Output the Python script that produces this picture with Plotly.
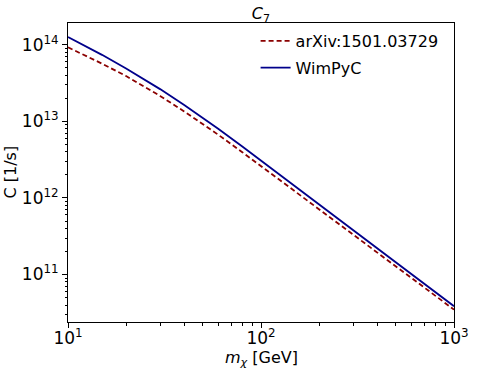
import plotly.graph_objects as go

# dark matter mass [GeV]
m_chi = [10, 12, 15, 20, 25, 30, 40, 50, 60, 80, 100, 150, 200, 300, 500, 700, 1000]

# capture rate C [1/s]
c_arxiv = [9.27e13, 7.48e13, 5.68e13, 3.91e13, 2.82e13, 2.15e13, 1.35e13, 9.27e12,
           6.70e12, 3.96e12, 2.61e12, 1.22e12, 7.11e11, 3.32e11, 1.27e11, 6.78e10,
           3.48e10]
c_wimpyc = [1.265e14, 9.98e13, 7.40e13, 4.92e13, 3.51e13, 2.64e13, 1.64e13, 1.11e13,
            8.00e12, 4.69e12, 3.07e12, 1.42e12, 8.22e11, 3.81e11, 1.44e11, 7.61e10,
            3.86e10]

# tick labels
x_tickvals = [10, 100, 1000]
x_ticktext = ["10<sup>1</sup>", "10<sup>2</sup>", "10<sup>3</sup>"]
y_tickvals = [1e11, 1e12, 1e13, 1e14]
y_ticktext = ["10<sup>11</sup>", "10<sup>12</sup>", "10<sup>13</sup>", "10<sup>14</sup>"]

x_minor = [d * 10 ** e for e in (1, 2) for d in range(2, 10)]
y_minor = [d * 10.0 ** e for e in (10, 11, 12, 13, 14) for d in range(2, 10)]

FONT = "DejaVu Sans"

fig = go.Figure()
fig.add_trace(go.Scatter(
    x=m_chi, y=c_arxiv, mode="lines", name="arXiv:1501.03729", legendgroup="a",
    line=dict(color="#8b0000", width=1.8, dash="5px,3px")))
fig.add_trace(go.Scatter(
    x=m_chi, y=c_wimpyc, mode="lines", name="WimPyC", legendgroup="b",
    line=dict(color="#00008b", width=1.8)))

axis_common = dict(
    type="log", showgrid=False, zeroline=False, showline=True, linecolor="black",
    linewidth=1, mirror=True, ticks="outside", ticklen=5, tickcolor="black",
    tickwidth=1, automargin=False,
    tickfont=dict(family=FONT, size=17, color="black"),
)

fig.update_layout(
    width=493, height=370,
    margin=dict(l=68, r=39, t=23, b=48),
    paper_bgcolor="white", plot_bgcolor="white",
    font=dict(family=FONT, color="black"),
    title=dict(text="<i>C</i><sub>7</sub>", x=0.5, xref="paper", xanchor="center",
               y=1, yref="paper", yanchor="bottom", pad=dict(b=4),
               font=dict(family=FONT, size=16, color="black")),
    xaxis=dict(axis_common, range=[1, 3], tickvals=x_tickvals, ticktext=x_ticktext,
               ticklabelstandoff=-4,
               minor=dict(tickmode="array", tickvals=x_minor, ticks="outside",
                          ticklen=2.5, tickcolor="black", tickwidth=0.8)),
    yaxis=dict(axis_common, range=[10.380, 14.285], tickvals=y_tickvals,
               ticktext=y_ticktext,
               minor=dict(tickmode="array", tickvals=y_minor, ticks="outside",
                          ticklen=2.5, tickcolor="black", tickwidth=0.8)),
    legend=dict(x=0.486, y=0.997, xanchor="left", yanchor="top",
                bgcolor="rgba(255,255,255,0)", borderwidth=0,
                font=dict(family=FONT, size=16, color="black"),
                itemwidth=30, tracegroupgap=3),
    showlegend=True,
    annotations=[
        dict(text="<i>m</i><sub><i>χ</i></sub> [GeV]", xref="paper", yref="paper",
             x=0.5, y=0, xanchor="center", yanchor="middle", yshift=-36,
             showarrow=False, font=dict(family=FONT, size=16, color="black")),
        dict(text="C [1/s]", xref="paper", yref="paper", textangle=-90,
             x=0, y=0.5, xanchor="center", yanchor="middle", xshift=-58,
             showarrow=False, font=dict(family=FONT, size=16, color="black")),
    ],
)

fig.write_html("out.html", config={"displayModeBar": False},
               post_script="document.body.style.margin='0';")
